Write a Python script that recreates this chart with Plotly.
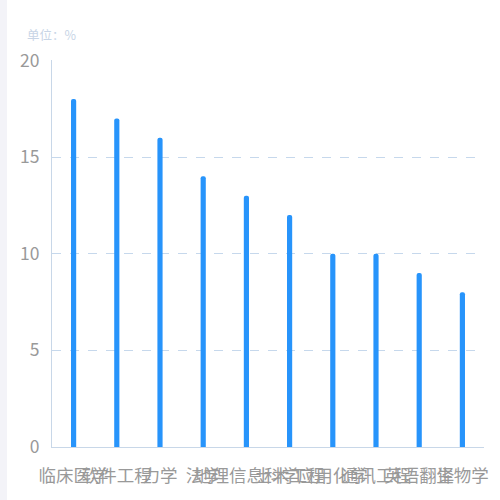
import plotly.graph_objects as go

categories = ["临床医学", "软件工程", "力学", "法学", "地理信息科学", "土木工程", "应用化学", "通讯工程", "英语翻译", "生物学"]
values = [18, 17, 16, 14, 13, 12, 10, 10, 9, 8]
y_ticks = [0, 5, 10, 15, 20]
unit_label = "单位：%"

FONT = "Noto Sans CJK SC, Noto Sans, sans-serif"

fig = go.Figure()
fig.add_trace(go.Bar(
    x=categories,
    y=values,
    width=0.12,
    marker=dict(color="#2794fb", line=dict(width=0), cornerradius=3),
    hoverinfo="x+y",
))

fig.update_layout(
    width=500,
    height=500,
    margin=dict(l=52, r=12, t=60, b=53),
    paper_bgcolor="#ffffff",
    plot_bgcolor="#ffffff",
    showlegend=False,
    font=dict(family=FONT),
    xaxis=dict(
        type="category",
        showgrid=False,
        showline=True,
        linecolor="#c8d7e8",
        linewidth=1,
        ticks="",
        tickfont=dict(size=17.5, color="#999999", family=FONT),
        ticklabelstandoff=13,
        tickangle=0,
        range=[-0.5, len(categories) - 0.5],
    ),
    yaxis=dict(
        range=[0, 20.02],
        tickvals=y_ticks,
        showgrid=True,
        gridcolor="#c6d8ec",
        griddash="dash",
        gridwidth=1,
        showline=True,
        linecolor="#c8d7e8",
        linewidth=1,
        zeroline=False,
        ticks="",
        tickfont=dict(size=17.5, color="#999999", family=FONT),
        ticklabelstandoff=8,
    ),
    annotations=[dict(
        text=unit_label,
        xref="paper", yref="paper",
        x=0, y=1,
        xshift=-27, yshift=14,
        xanchor="left", yanchor="bottom",
        showarrow=False,
        font=dict(size=12.5, color="#c8d5e6", family=FONT),
    )],
    shapes=[dict(
        type="rect",
        xref="paper", yref="paper",
        xsizemode="pixel", ysizemode="pixel",
        xanchor=0, yanchor=0,
        x0=-52, x1=-45, y0=-60, y1=450,
        fillcolor="#f3f3f8", line=dict(width=0),
        layer="below",
    )],
)

fig.write_html("out.html", config={"displayModeBar": False},
               post_script="document.body.style.margin='0';")
